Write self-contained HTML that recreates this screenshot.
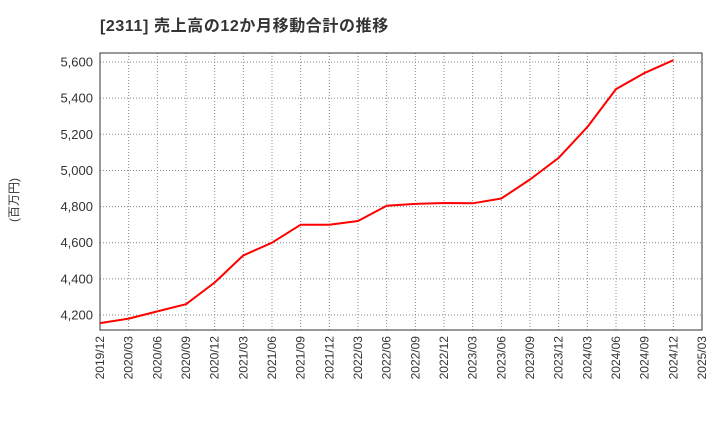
<!DOCTYPE html>
<html><head><meta charset="utf-8"><style>
body{margin:0;background:#fff;font-family:"Liberation Sans","Noto Sans CJK JP",sans-serif;}
svg text{font-family:"Liberation Sans","Noto Sans CJK JP",sans-serif;}
</style></head><body>
<svg id="chart" width="720" height="440" xmlns="http://www.w3.org/2000/svg">
<text x="100" y="31" font-size="16" font-weight="bold" fill="#333" letter-spacing="0.6">[2311]  売上高の12か月移動合計の推移</text>
<text transform="translate(18,200) rotate(-90)" text-anchor="middle" font-size="12" fill="#333">(百万円)</text>
<g id="grid"></g><g id="axes"></g><g id="series"></g>
</svg>
<script>
const categories=["2019/12","2020/03","2020/06","2020/09","2020/12","2021/03","2021/06","2021/09","2021/12","2022/03","2022/06","2022/09","2022/12","2023/03","2023/06","2023/09","2023/12","2024/03","2024/06","2024/09","2024/12","2025/03"];
const salesValues=[4155,4180,4220,4260,4380,4530,4600,4700,4700,4720,4805,4815,4820,4818,4845,4950,5070,5240,5450,5540,5610];
const yTicks=[4200,4400,4600,4800,5000,5200,5400,5600];
const L=100,R=702,T=53,B=330,yMin=4117,yMax=5650;
const NS="http://www.w3.org/2000/svg";
const xPos=i=>L+i*(R-L)/(categories.length-1);
const yPos=v=>B-(v-yMin)/(yMax-yMin)*(B-T);
function mk(tag,attrs,parent){const e=document.createElementNS(NS,tag);for(const k in attrs)e.setAttribute(k,attrs[k]);parent.appendChild(e);return e;}
const grid=document.getElementById('grid'),axes=document.getElementById('axes'),series=document.getElementById('series');
mk('rect',{x:L,y:T,width:R-L,height:B-T,fill:'#fff',stroke:'none'},grid);
categories.forEach((c,i)=>{
  const x=xPos(i);
  const g=mk('line',{x1:x,x2:x,y1:T,y2:B,stroke:'#888','stroke-dasharray':'1,2','stroke-width':1},grid);
  
  
  const t=mk('text',{transform:`translate(${x+4},${B+6}) rotate(-90)`,'text-anchor':'end','font-size':12,fill:'#333'},axes);
  t.textContent=c;
  
  
});
yTicks.forEach(v=>{
  const y=yPos(v);
  const g=mk('line',{x1:L,x2:R,y1:y,y2:y,stroke:'#888','stroke-dasharray':'1,2','stroke-width':1},grid);
  
  
  const t=mk('text',{x:L-7,y:y+4.5,'text-anchor':'end','font-size':13,fill:'#333'},axes);
  t.textContent=v.toLocaleString('en-US');
  
  
});
const frame=mk('rect',{x:L,y:T,width:R-L,height:B-T,fill:'none',stroke:'#333','stroke-width':1},axes);


const pts=salesValues.map((v,i)=>xPos(i).toFixed(1)+','+yPos(v).toFixed(1)).join(' ');
const line=mk('polyline',{points:pts,fill:'none',stroke:'#f00','stroke-width':2,'stroke-linejoin':'round'},series);


</script>
</body></html>
